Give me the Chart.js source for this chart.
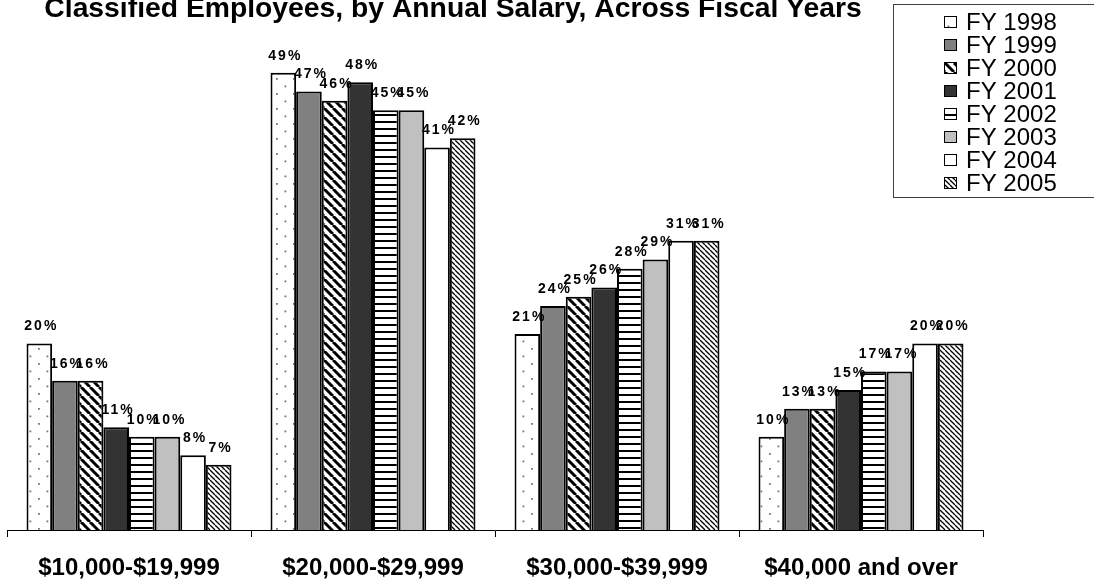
<!DOCTYPE html>
<html>
<head>
<meta charset="utf-8">
<script src="https://cdn.jsdelivr.net/npm/chart.js@4"></script>
<style>
  html, body { margin: 0; padding: 0; background: #fff; }
  #wrap { width: 1094px; height: 584px; position: relative; }
</style>
</head>
<body>
<div id="wrap"><canvas id="salaryChart"></canvas></div>
<script>
let chartTitle = 'Classified Employees, by Annual Salary, Across Fiscal Years'
let categories = ['$10,000-$19,999', '$20,000-$29,999', '$30,000-$39,999', '$40,000 and over']
let seriesNames = ['FY 1998', 'FY 1999', 'FY 2000', 'FY 2001', 'FY 2002', 'FY 2003', 'FY 2004', 'FY 2005']
let fy1998 = [20, 49, 21, 10]
let fy1999 = [16, 47, 24, 13]
let fy2000 = [16, 46, 25, 13]
let fy2001 = [11, 48, 26, 15]
let fy2002 = [10, 45, 28, 17]
let fy2003 = [10, 45, 29, 17]
let fy2004 = [8, 41, 31, 20]
let fy2005 = [7, 42, 31, 20]
let yMin = 0
let yMax = 50

let FONT = '"Liberation Sans", Arial, sans-serif'

// small tiles used as bar fills
function makePattern(w, h, draw) {
    let c = document.createElement('canvas')
    c.width = w
    c.height = h
    let g = c.getContext('2d')
    g.fillStyle = '#fff'
    g.fillRect(0, 0, w, h)
    draw(g, w, h)
    return g.createPattern(c, 'repeat')
}

function diagonal(width, size) {
    return makePattern(size, size, function (g, w, h) {
        g.strokeStyle = '#000'
        g.lineWidth = width
        for (let k = -1; k <= 1; k++) {
            g.beginPath()
            g.moveTo(k * w, 0)
            g.lineTo(k * w + w, h)
            g.stroke()
        }
    })
}

let dots = makePattern(17, 15, function (g) {
    g.fillStyle = '#777'
    g.fillRect(4, 3, 1.8, 1.8)
    g.fillRect(12.5, 10.5, 1.8, 1.8)
})
let hlines = makePattern(8, 7, function (g) {
    g.fillStyle = '#000'
    g.fillRect(0, 2, 8, 2)
})

let fills = [dots, '#808080', diagonal(3, 9), '#333333', hlines, '#c0c0c0', '#ffffff', diagonal(1.3, 5)]
let series = [fy1998, fy1999, fy2000, fy2001, fy2002, fy2003, fy2004, fy2005]

let extras = {
    id: 'extras',
    afterDatasetsDraw(chart) {
        let ctx = chart.ctx
        ctx.save()
        ctx.font = 'bold 14px ' + FONT
        ctx.letterSpacing = '2px'
        ctx.textAlign = 'center'
        ctx.textBaseline = 'alphabetic'
        ctx.fillStyle = '#000'
        chart.data.datasets.forEach(function (ds, i) {
            chart.getDatasetMeta(i).data.forEach(function (bar, j) {
                ctx.fillText(ds.data[j] + '%', bar.x + 2, bar.y - 13)
            })
        })
        ctx.restore()
    },
    afterDraw(chart) {
        let ctx = chart.ctx
        ctx.save()
        // title
        ctx.font = 'bold 28.3px ' + FONT
        ctx.fillStyle = '#000'
        ctx.textAlign = 'center'
        ctx.textBaseline = 'alphabetic'
        ctx.fillText(chartTitle, 453, 17)

        // legend box
        ctx.fillStyle = '#fff'
        ctx.fillRect(893, 4, 210, 193)
        ctx.strokeStyle = '#404040'
        ctx.lineWidth = 1
        ctx.strokeRect(893.5, 4.5, 210, 193)
        ctx.font = '24px ' + FONT
        ctx.textAlign = 'left'
        ctx.textBaseline = 'middle'
        chart.data.datasets.forEach(function (ds, i) {
            let y = 22 + i * 23
            ctx.fillStyle = ds.backgroundColor
            ctx.fillRect(944, y - 6, 13, 12)
            ctx.strokeStyle = '#000'
            ctx.strokeRect(944.5, y - 5.5, 12, 11)
            ctx.fillStyle = '#000'
            ctx.fillText(ds.label, 966, y + 1)
        })
        ctx.restore()
    }
}

let ctx = document.getElementById('salaryChart').getContext('2d')
new Chart(ctx, {
    type: 'bar',
    data: {
        labels: categories,
        datasets: seriesNames.map(function (name, i) {
            return {
                label: name,
                data: series[i],
                backgroundColor: fills[i],
                borderColor: '#000',
                borderWidth: 2,
                borderSkipped: 'bottom',
                categoryPercentage: 0.84,
                barPercentage: 1.0
            }
        })
    },
    options: {
        responsive: true,
        maintainAspectRatio: false,
        animation: false,
        layout: {
            padding: { left: 7, right: 111, top: 63.5, bottom: 4 }
        },
        plugins: {
            legend: { display: false },
            title: { display: false },
            tooltip: { enabled: false }
        },
        scales: {
            x: {
                offset: true,
                afterFit: function (scale) {
                    scale.height = 50
                },
                grid: {
                    offset: true,
                    drawOnChartArea: false,
                    drawTicks: true,
                    tickLength: 7,
                    color: '#000'
                },
                border: { display: true, color: '#000', width: 1 },
                ticks: {
                    color: '#000',
                    padding: 17,
                    font: { family: FONT, size: 24, weight: 'bold' }
                }
            },
            y: {
                display: false,
                min: yMin,
                max: yMax
            }
        }
    },
    plugins: [extras]
})
</script>
</body>
</html>
